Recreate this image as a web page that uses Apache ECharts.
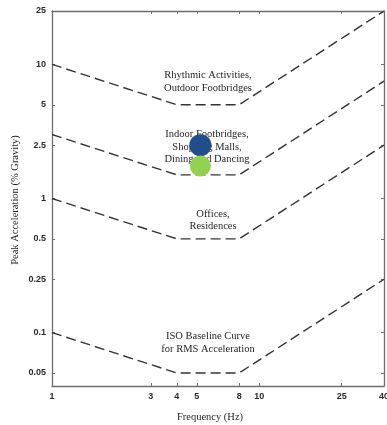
<!DOCTYPE html>
<html>
<head>
<meta charset="utf-8">
<script src="https://cdn.jsdelivr.net/npm/echarts@6/dist/echarts.min.js"></script>
<style>
  html, body { margin: 0; padding: 0; background: #fff; overflow: hidden; }
  #chart { width: 387px; height: 425px; }
</style>
</head>
<body>
<div id="chart"></div>
<script>
// Break frequencies (Hz) of the tolerance curves
const freqBreaks = [1, 4, 8, 40];
// Peak acceleration limits (% gravity) at each break frequency
const rhythmicLimit = [10, 5, 5, 25];
const indoorLimit = [3, 1.5, 1.5, 7.5];
const officeLimit = [1, 0.5, 0.5, 2.5];
const isoBaseline = [0.1, 0.05, 0.05, 0.25];
// Measured responses [frequency Hz, peak acceleration %g]
const measuredA = [5.2, 2.5];
const measuredB = [5.2, 1.75];
// Tick labels
const xTicks = [1, 3, 4, 5, 8, 10, 25, 40];
const yTicks = [0.05, 0.1, 0.25, 0.5, 1, 2.5, 5, 10, 25];

const pair = (ys) => freqBreaks.map((f, i) => [f, ys[i]]);

const axisLine = { lineStyle: { color: '#6e6e6e', width: 1.3 } };
const tickFmt = (v) => String(Math.round(v * 1000) / 1000);
const labelFont = { fontFamily: 'Liberation Sans, Arial, sans-serif', fontSize: 9, fontWeight: 'bold', color: '#2a2a2a' };

const makeX = (pos, showLabel) => ({
  type: 'log', logBase: 10, min: 1, max: 40, position: pos,
  axisLine: axisLine,
  splitLine: { show: false },
  axisTick: { show: true, inside: true, length: 3, customValues: xTicks, lineStyle: { color: '#6e6e6e' } },
  axisLabel: Object.assign({ show: showLabel, customValues: xTicks, formatter: tickFmt, margin: 6 }, labelFont)
});
const makeY = (pos, showLabel) => ({
  type: 'log', logBase: 10, min: 0.04, max: 25, position: pos,
  axisLine: axisLine,
  splitLine: { show: false },
  axisTick: { show: true, inside: true, length: 3, customValues: yTicks, lineStyle: { color: '#6e6e6e' } },
  axisLabel: Object.assign({ show: showLabel, customValues: yTicks, formatter: tickFmt, margin: 6 }, labelFont)
});

const dashed = (name, ys) => ({
  name: name, type: 'line', data: pair(ys), symbol: 'none', silent: true,
  lineStyle: { color: '#333333', width: 1.4, type: [10, 5] }
});

const serif = 'Liberation Serif, Times New Roman, serif';
const note = (text, x, y) => ({
  type: 'text', x: x, y: y,
  style: { text: text, fill: '#1e1e1e', font: '10.5px ' + serif, textAlign: 'center', textVerticalAlign: 'middle', lineHeight: 12.5 }
});

const chart = echarts.init(document.getElementById('chart'), null, { renderer: 'canvas' });
chart.setOption({
  animation: false,
  backgroundColor: '#ffffff',
  grid: { left: 52, top: 11, right: 3, bottom: 39, containLabel: false, outerBoundsMode: 'none' },
  xAxis: [makeX('bottom', true), makeX('top', false)],
  yAxis: [makeY('left', true), makeY('right', false)],
  series: [
    dashed('Rhythmic Activities', rhythmicLimit),
    dashed('Indoor Footbridges', indoorLimit),
    dashed('Offices', officeLimit),
    dashed('ISO Baseline', isoBaseline),
    {
      type: 'scatter', symbolSize: 22, z: 5,
      data: [{ value: measuredA, itemStyle: { color: '#1f4e8a', opacity: 1 } }]
    },
    {
      type: 'scatter', symbolSize: 21, z: 6,
      data: [{ value: measuredB, itemStyle: { color: '#92d050', opacity: 1 } }]
    }
  ],
  graphic: [
    note('Rhythmic Activities,\nOutdoor Footbridges', 208, 81.5),
    note('Indoor Footbridges,\nShopping Malls,\nDining and Dancing', 207, 147),
    note('Offices,\nResidences', 213, 220),
    note('ISO Baseline Curve\nfor RMS Acceleration', 208, 342.5),
    { type: 'text', x: 210, y: 417,
      style: { text: 'Frequency (Hz)', fill: '#1e1e1e', font: '10.5px ' + serif, textAlign: 'center', textVerticalAlign: 'middle' } },
    { type: 'text', x: 15, y: 200, rotation: Math.PI / 2,
      style: { text: 'Peak Acceleration (% Gravity)', fill: '#1e1e1e', font: '10.5px ' + serif, textAlign: 'center', textVerticalAlign: 'middle' } }
  ]
});
</script>
</body>
</html>
